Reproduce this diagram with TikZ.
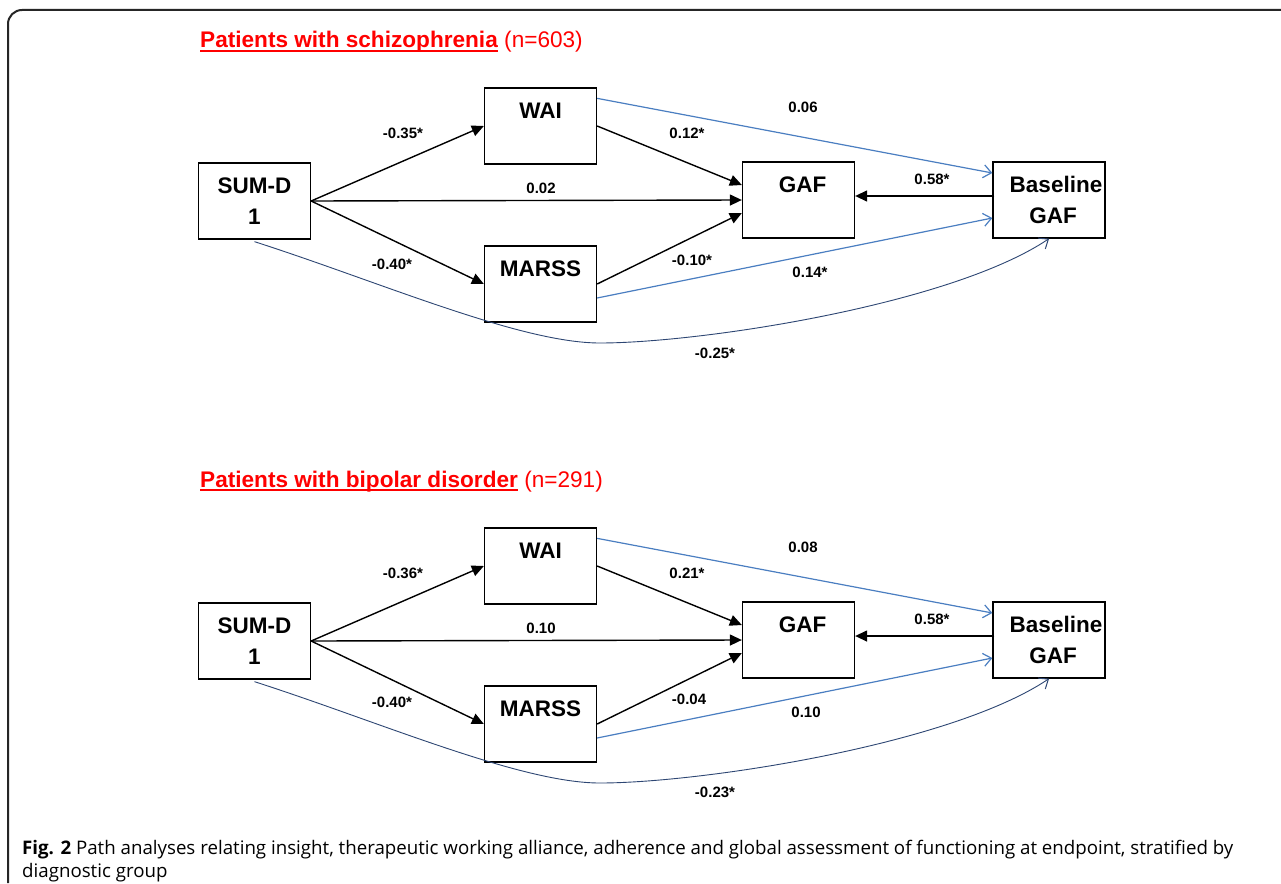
\documentclass[tikz,border=0pt]{standalone}
\usepackage{fontspec}
\setmainfont{Liberation Sans}
\newfontfamily\capfont{Open Sans}
\usetikzlibrary{arrows.meta,calc}
\definecolor{bluel}{RGB}{74,126,193}
\definecolor{navyl}{RGB}{45,70,115}
\definecolor{titlered}{RGB}{255,0,0}
\begin{document}
\begin{tikzpicture}[x=1pt,y=-1pt,
 box/.style={draw, line width=1.3pt, minimum width=112pt, minimum height=76pt, inner sep=0pt, align=center, font=\fontsize{22.5}{31}\selectfont\bfseries},
 blk/.style={line width=1.4pt, -{Triangle[length=12pt,width=11pt]}},
 blu/.style={draw=bluel, line width=1.2pt, -{Straight Barb[length=8pt,width=13pt,line width=1.2pt]}},
 crv/.style={draw=navyl, line width=0.9pt, -{Straight Barb[length=8pt,width=13pt,line width=1pt]}},
 lab/.style={font=\fontsize{15}{18}\selectfont\bfseries, inner sep=0pt},
 ttlb/.style={anchor=base west, inner sep=0pt, text=titlered, font=\fontsize{22.6}{26}\selectfont\bfseries},
 ttln/.style={anchor=base west, inner sep=0pt, text=titlered, font=\fontsize{22.6}{26}\selectfont},
 uline/.style={draw=titlered, line width=1.8pt}
]
\useasboundingbox (0,0) rectangle (1281,883);
\fill[white] (0,0) rectangle (1281,883);
\draw[line width=2pt, black!85, rounded corners=14pt] (8,883) -- (8,10) -- (1281,10);

% ---------- top diagram ----------
\node[ttlb] (t1) at (200,48) {Patients with schizophrenia};
\node[ttln] (n1) at ($(t1.base east)+(6,0)$) {(n=603)};
\draw[uline] ($(t1.base west)+(0,3)$) -- ($(t1.base east)+(0,3)$);

\node[box] (sumA) at (254.5,201) {SUM-D\\1};
\node[box] (waiA) at (540.5,126) {WAI\\~};
\node[box] (marA) at (540.5,284) {MARSS\\~};
\node[box] (gafA) at (798.5,200) {\hspace*{8pt}GAF\\~};
\node[box] (basA) at (1049,200) {\hspace*{14pt}Baseline\\\hspace*{8pt}GAF};

\draw[blk] (sumA.east) -- (waiA.west);
\draw[blk] (sumA.east) -- (gafA.west);
\draw[blk] (sumA.east) -- (marA.west);
\draw[blk] (waiA.east) -- ($(gafA.west)+(0,-15)$);
\draw[blk] (marA.east) -- ($(gafA.west)+(0,13)$);
\draw[blk] ($(basA.west)+(2,-4)$) -- ($(gafA.east)+(0,-4)$);
\draw[blu] ($(waiA.north east)+(0,11)$) -- ($(basA.west)+(0,-27)$);
\draw[blu] ($(marA.east)+(0,14)$) -- ($(basA.west)+(0,18)$);
\coordinate (botA) at (600,343);
\draw[crv] ($(sumA.south)+(0,2)$) .. controls (380,282) and (520,343) .. (botA)
  .. controls (700,343) and (950,305) .. (basA.south);

\node[lab] (l1A) at (403,133) {-0.35*};
\node[lab] (l2A) at (541,188) {0.02};
\node[lab] (l3A) at (392,264) {-0.40*};
\node[lab] (l4A) at (687,133) {0.12*};
\node[lab] (l5A) at (692,260) {-0.10*};
\node[lab] (l6A) at (932,179) {0.58*};
\node[lab] (l7A) at (803,107) {0.06};
\node[lab] (l8A) at (810,272) {0.14*};
\node[lab] (l9A) at (715,353) {-0.25*};

% ---------- bottom diagram ----------
\node[ttlb] (t2) at (200,487) {Patients with bipolar disorder};
\node[ttln] (n2) at ($(t2.base east)+(6,0)$) {(n=291)};
\draw[uline] ($(t2.base west)+(0,3)$) -- ($(t2.base east)+(0,3)$);

\begin{scope}[yshift=-440pt]
\node[box] (sumB) at (254.5,201) {SUM-D\\1};
\node[box] (waiB) at (540.5,126) {WAI\\~};
\node[box] (marB) at (540.5,284) {MARSS\\~};
\node[box] (gafB) at (798.5,200) {\hspace*{8pt}GAF\\~};
\node[box] (basB) at (1049,200) {\hspace*{14pt}Baseline\\\hspace*{8pt}GAF};

\draw[blk] (sumB.east) -- (waiB.west);
\draw[blk] (sumB.east) -- (gafB.west);
\draw[blk] (sumB.east) -- (marB.west);
\draw[blk] (waiB.east) -- ($(gafB.west)+(0,-15)$);
\draw[blk] (marB.east) -- ($(gafB.west)+(0,13)$);
\draw[blk] ($(basB.west)+(2,-4)$) -- ($(gafB.east)+(0,-4)$);
\draw[blu] ($(waiB.north east)+(0,11)$) -- ($(basB.west)+(0,-27)$);
\draw[blu] ($(marB.east)+(0,14)$) -- ($(basB.west)+(0,18)$);
\coordinate (botB) at (600,343);
\draw[crv] ($(sumB.south)+(0,2)$) .. controls (380,282) and (520,343) .. (botB)
  .. controls (700,343) and (950,305) .. (basB.south);

\node[lab] (l1B) at (403,133) {-0.36*};
\node[lab] (l2B) at (541,188) {0.10};
\node[lab] (l3B) at (392,262) {-0.40*};
\node[lab] (l4B) at (687,133) {0.21*};
\node[lab] (l5B) at (689,259) {-0.04};
\node[lab] (l6B) at (932,179) {0.58*};
\node[lab] (l7B) at (803,107) {0.08};
\node[lab] (l8B) at (806,272) {0.10};
\node[lab] (l9B) at (715,352) {-0.23*};
\end{scope}

% ---------- caption ----------
\node[anchor=base west, inner sep=0pt, align=left, font=\capfont\fontsize{18.7}{23}\selectfont] (cap) at (22,877)
 {\textbf{Fig. 2} Path analyses relating insight, therapeutic working alliance, adherence and global assessment of functioning at endpoint, stratified by\\diagnostic group};
\end{tikzpicture}
\end{document}
